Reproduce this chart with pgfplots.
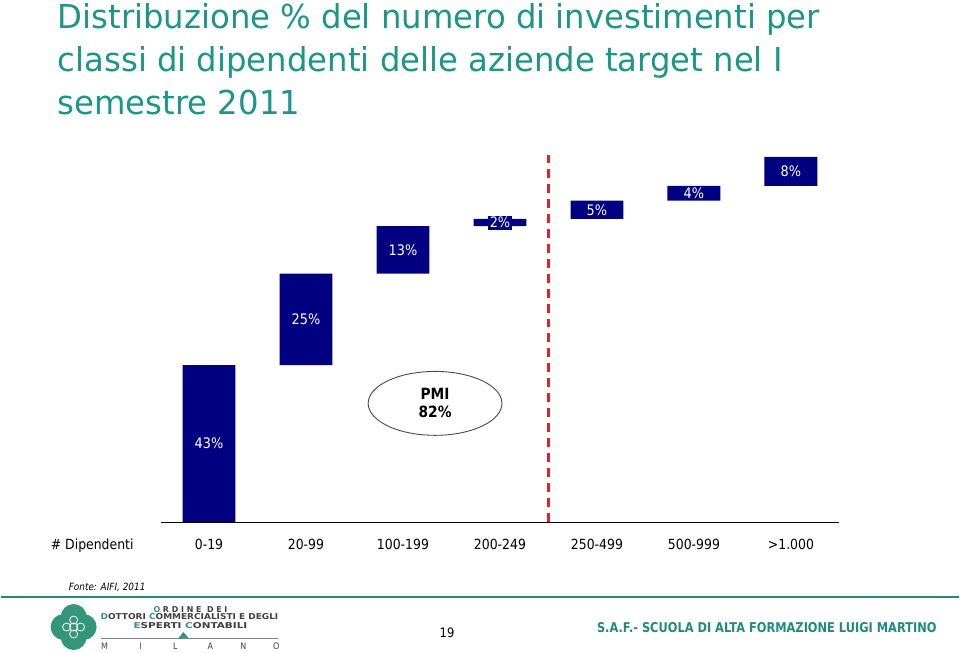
\documentclass[border=0pt]{standalone}
\usepackage{fontspec}
\setmainfont{DejaVu Sans}[FakeStretch=0.89]
\newfontfamily\titlefont{DejaVu Sans}[FakeStretch=0.98]
\usepackage{graphicx}
\usepackage{pgfplots}
\pgfplotsset{compat=1.18}
\usepackage{pgfplotstable}

\definecolor{titleteal}{RGB}{27,150,135}
\definecolor{footteal}{RGB}{30,140,125}
\definecolor{logogreen}{RGB}{52,150,120}
\definecolor{barnavy}{RGB}{0,0,128}
\definecolor{cutred}{RGB}{228,32,42}
\definecolor{ellgray}{RGB}{70,70,100}

% waterfall: base = cumulative start, val = share (%)
\pgfplotstableread{
cat base val
0   0    43
1   43   25
2   68   13
3   81   2
4   83   5
5   88   4
6   92   8
}\waterfall

\begin{document}
\begin{tikzpicture}[x=1pt,y=1pt]
\path[fill=white] (0,0) rectangle (960,654);

% title
\begin{scope}[every node/.style={anchor=base west, inner sep=0pt, text=titleteal,
    font=\titlefont\fontsize{33}{40}\selectfont}]
  \node at (57,625) {Distribuzione \% del numero di investimenti per};
  \node at (57,582) {classi di dipendenti delle aziende target nel I};
  \node at (57,539) {semestre 2011};
\end{scope}

% bars
\begin{axis}[
    at={(160pt,131pt)}, anchor=south west,
    scale only axis, width=680pt, height=366pt,
    xmin=-0.5, xmax=6.5, ymin=0, ymax=100,
    ybar stacked, bar width=53pt,
    axis x line=bottom, axis y line=none,
    axis line style={-, black, line width=0.8pt},
    xtick={0,...,6},
    xticklabels={0-19,20-99,100-199,200-249,250-499,500-999,>1.000},
    major tick length=0pt,
    xticklabel style={anchor=base, yshift=-27pt, font=\fontsize{14}{16}\selectfont},
    clip=false,
  ]
  \addplot[fill=none, draw=none] table[x=cat, y=base] {\waterfall};
  \addplot[fill=barnavy, draw=none] table[x=cat, y=val] {\waterfall};
  \draw[cutred, line width=3pt, dash pattern=on 9pt off 6pt]
    (axis cs:3.5,0) -- (axis cs:3.5,100.5);
\end{axis}

% bar labels
\begin{axis}[
    at={(160pt,131pt)}, anchor=south west,
    scale only axis, width=680pt, height=366pt,
    xmin=-0.5, xmax=6.5, ymin=0, ymax=100,
    hide axis, clip=false,
  ]
  \addplot[draw=none, mark=none,
    point meta=explicit symbolic,
    nodes near coords={\pgfplotspointmeta\%},
    nodes near coords style={anchor=center, text=white, fill=barnavy,
      inner sep=1.5pt, font=\fontsize{14.5}{16}\selectfont}]
    table[x=cat, y expr=\thisrow{base}+\thisrow{val}/2, meta=val] {\waterfall};
\end{axis}

\node[anchor=base west, inner sep=0pt, font=\fontsize{14}{16}\selectfont] at (50,104) {\# Dipendenti};

% PMI bubble
\draw[fill=white, draw=ellgray, line width=0.9pt] (435,250) ellipse [x radius=67, y radius=32];
\node[align=center, font=\bfseries\fontsize{15.5}{18}\selectfont] at (435,250) {PMI\\82\%};

% footer
\node[anchor=base west, inner sep=0pt, font=\itshape\fontsize{10}{12}\selectfont] at (68,63) {Fonte: AIFI, 2011};
\draw[footteal, line width=1.5pt] (0,56) -- (960,56);

% logo
\fill[logogreen] (63,26) circle (13) (83,26) circle (13) (73,36) circle (13) (73,16) circle (13);
\draw[white, line width=0.8pt] (73,26) circle (4) (66,26) circle (4) (80,26) circle (4) (73,33) circle (4) (73,19) circle (4);
\begin{scope}[every node/.style={inner sep=0pt, text=black!75}]
  \node[anchor=base] at (190,41) {\resizebox{74pt}{6pt}{\bfseries\textcolor{logogreen}{O} R D I N E\ \ D E I}};
  \node[anchor=base] at (189,34) {\resizebox{178pt}{6pt}{\bfseries\textcolor{logogreen}{D}OTTORI \textcolor{logogreen}{C}OMMERCIALISTI E DEGLI}};
  \node[anchor=base] at (190,25) {\resizebox{114pt}{6pt}{\bfseries\textcolor{logogreen}{E}SPERTI \textcolor{logogreen}{C}ONTABILI}};
  \foreach \l/\xx in {M/104,I/140,L/175,A/210,N/243,O/276}
    \node[anchor=base, font=\fontsize{9}{10}\selectfont] at (\xx,3) {\l};
\end{scope}
\draw[black!50, line width=0.6pt] (100,15) -- (278,15);
\fill[logogreen] (178,15) -- (183,21) -- (188,15) -- cycle;

\node[anchor=base, inner sep=0pt, font=\fontsize{13}{15}\selectfont] at (447,16) {19};
\node[anchor=base west, inner sep=0pt, text=footteal] at (597,21)
  {\resizebox{340pt}{10pt}{\bfseries S.A.F.- SCUOLA DI ALTA FORMAZIONE LUIGI MARTINO}};
\end{tikzpicture}
\end{document}
